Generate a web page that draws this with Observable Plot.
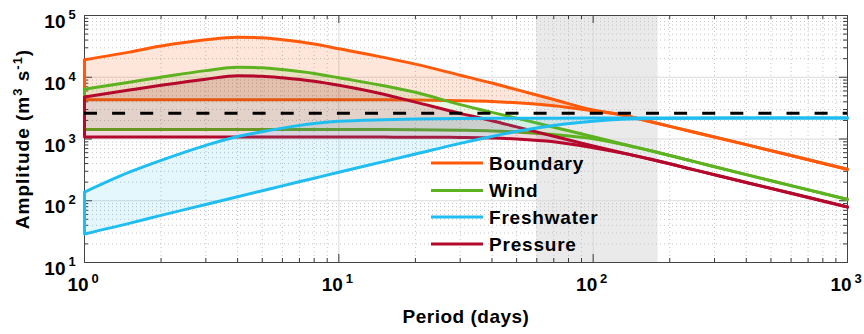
<!DOCTYPE html>
<html><head><meta charset="utf-8">
<script src="https://cdn.jsdelivr.net/npm/d3@7"></script>
<script src="https://cdn.jsdelivr.net/npm/@observablehq/plot@0.6"></script>
<style>
html,body{margin:0;padding:0;background:#fff;}
#chart{width:864px;height:334px;}
</style></head><body><div id="chart"></div>
<script>
// ---- data ----
const periods     = [1, 1.5, 2, 3, 4, 5, 6, 8, 10, 15, 20, 30, 40, 50, 70, 100, 130, 170, 250, 400, 600, 1000];
const boundaryHi  = [19200, 25500, 32000, 40500, 44500, 43500, 40400, 34500, 29000, 21000, 16300, 10800, 8050, 6300, 4350, 2950, 2450, 1880, 1290, 810, 540, 322];
const boundaryLo  = [4330, 4330, 4330, 4330, 4330, 4330, 4330, 4330, 4330, 4320, 4280, 4180, 4050, 3850, 3450, 2850, 2450, 1880, 1290, 810, 540, 322];
const windHi      = [6400, 8300, 10000, 12800, 14500, 14200, 13300, 11500, 9800, 7300, 5700, 3600, 2700, 2180, 1550, 1090, 830, 640, 430, 265, 176, 105];
const windLo      = [1430, 1430, 1430, 1430, 1430, 1430, 1430, 1430, 1430, 1425, 1415, 1385, 1350, 1300, 1180, 1010, 825, 640, 430, 265, 176, 105];
const freshHi     = [138, 290, 451, 790, 1100, 1310, 1500, 1780, 1930, 2050, 2100, 2140, 2160, 2170, 2175, 2180, 2180, 2180, 2180, 2180, 2180, 2180];
const freshLo     = [29, 43, 58, 87, 116, 145, 174, 232, 290, 430, 570, 850, 1100, 1320, 1650, 1930, 2080, 2150, 2175, 2180, 2180, 2180];
const pressureHi  = [4800, 6200, 7400, 9300, 10600, 10400, 9800, 8600, 7400, 5300, 3950, 2600, 1980, 1570, 1110, 770, 600, 465, 316, 198, 132, 79];
const pressureLo  = [1075, 1075, 1075, 1075, 1075, 1075, 1075, 1075, 1075, 1073, 1070, 1060, 1040, 1000, 900, 720, 590, 465, 316, 198, 132, 79];
const seriesNames  = ["Boundary", "Wind", "Freshwater", "Pressure"];
const seriesColors = ["#ff5a0a", "#5cb31f", "#20bef0", "#b4082c"];
const dashedLevel  = [2620];
const bandPeriods  = [60, 180];
const xTickValues  = [1, 10, 100, 1000];
const yTickValues  = [10, 100, 1000, 10000, 100000];
const xAxisLabel   = "Period (days)";

// ---- layout ----
const W = 864, H = 334, mL = 84, mR = 17, mT = 15, mB = 72;
const fw = W - mL - mR, fh = H - mT - mB;
const font = "'Liberation Sans', Arial, Helvetica, sans-serif";
const mult = [2,3,4,5,6,7,8,9];
const minorX = xTickValues.slice(0,-1).flatMap(d => mult.map(k => d*k));
const minorY = yTickValues.slice(0,-1).flatMap(d => mult.map(k => d*k));

const rows = (hi, lo) => periods.map((p, i) => ({p, hi: hi[i], lo: lo[i]}));
const seriesData = {
  Boundary: rows(boundaryHi, boundaryLo),
  Wind: rows(windHi, windLo),
  Freshwater: rows(freshHi, freshLo),
  Pressure: rows(pressureHi, pressureLo)
};
const fillOp = {Boundary: 0.15, Wind: 0.12, Freshwater: 0.12, Pressure: 0.15};
const drawOrder = ["Boundary", "Wind", "Pressure", "Freshwater"];

const seriesMarks = drawOrder.flatMap(name => {
  const c = seriesColors[seriesNames.indexOf(name)];
  const d = seriesData[name];
  return [
    Plot.areaY(d, {x: "p", y1: "lo", y2: "hi", fill: c, fillOpacity: fillOp[name], curve: "monotone-x"}),
    Plot.line(d, {x: "p", y: "hi", stroke: c, strokeWidth: 3, curve: "monotone-x"}),
    Plot.line(d, {x: "p", y: "lo", stroke: c, strokeWidth: 3, curve: "monotone-x"}),
    Plot.ruleX(d.slice(0, 1), {x: "p", y1: "lo", y2: "hi", stroke: c, strokeWidth: 3})
  ];
});

const tickColor = "#3a3a3a";
const chart = Plot.plot({
  width: W, height: H,
  marginLeft: mL, marginRight: mR, marginTop: mT, marginBottom: mB,
  style: {fontFamily: font, background: "white", overflow: "visible"},
  x: {type: "log", domain: [1, 1000], axis: null},
  y: {type: "log", domain: [10, 100000], axis: null},
  marks: [
    Plot.rect([{x1: bandPeriods[0], x2: bandPeriods[1]}], {x1: "x1", x2: "x2", fill: "#d6d6d6", fillOpacity: 0.5}),
    Plot.ruleX(minorX, {stroke: "#c4c4c4", strokeDasharray: "1,3"}),
    Plot.ruleY(minorY, {stroke: "#c4c4c4", strokeDasharray: "1,3"}),
    Plot.ruleX(xTickValues.slice(1, -1), {stroke: "#dadada"}),
    Plot.ruleY(yTickValues.slice(1, -1), {stroke: "#dadada"}),
    // inward ticks on all four sides
    Plot.ruleX(minorX, {insetTop: fh - 4, stroke: tickColor}),
    Plot.ruleX(minorX, {insetBottom: fh - 4, stroke: tickColor}),
    Plot.ruleX(xTickValues, {insetTop: fh - 8, stroke: tickColor}),
    Plot.ruleX(xTickValues, {insetBottom: fh - 8, stroke: tickColor}),
    Plot.ruleY(minorY, {insetRight: fw - 4, stroke: tickColor}),
    Plot.ruleY(minorY, {insetLeft: fw - 4, stroke: tickColor}),
    Plot.ruleY(yTickValues, {insetRight: fw - 8, stroke: tickColor}),
    Plot.ruleY(yTickValues, {insetLeft: fw - 8, stroke: tickColor}),
    Plot.frame({stroke: "#444"}),
    ...seriesMarks,
    Plot.ruleY(dashedLevel, {stroke: "black", strokeWidth: 3, strokeDasharray: "13,15.1"}),
    // tick labels
    Plot.text(xTickValues, {x: d => d, frameAnchor: "bottom", text: () => "10", dx: -6.5, dy: 28, fontSize: 19, fontWeight: "bold", fill: "black"}),
    Plot.text(xTickValues, {x: d => d, frameAnchor: "bottom", text: d => String(Math.round(Math.log10(d))), dx: 10.5, dy: 20, fontSize: 13, fontWeight: "bold", fill: "black"}),
    Plot.text(yTickValues, {y: d => d, frameAnchor: "left", text: () => "10", textAnchor: "end", dx: -19, dy: 6.5, fontSize: 19, fontWeight: "bold", fill: "black"}),
    Plot.text(yTickValues, {y: d => d, frameAnchor: "left", text: d => String(Math.round(Math.log10(d))), textAnchor: "start", dx: -16, dy: -0.5, fontSize: 13, fontWeight: "bold", fill: "black"}),
    Plot.text([xAxisLabel], {frameAnchor: "bottom", text: d => d, dy: 60, fontSize: 19, fontWeight: "bold", fill: "black", style: "letter-spacing:0.5px"})
  ]
});
document.getElementById("chart").appendChild(chart);

const svg = d3.select(chart);
svg.selectAll("text").filter(function() { return this.textContent === xAxisLabel; }).style("letter-spacing", "0.5px");

// y-axis label with superscripts
const yl = svg.append("text")
  .attr("transform", "translate(29,139) rotate(-90)")
  .attr("text-anchor", "middle")
  .style("letter-spacing", "1px")
  .attr("font-family", font).attr("font-weight", "bold").attr("font-size", 19).attr("fill", "black");
yl.append("tspan").text("Amplitude (m");
yl.append("tspan").attr("dy", -7).attr("font-size", 13).text("3");
yl.append("tspan").attr("dy", 7).text(" s");
yl.append("tspan").attr("dy", -7).attr("font-size", 13).text("-1");
yl.append("tspan").attr("dy", 7).text(")");

// legend
const lg = svg.append("g").attr("font-family", font).attr("font-weight", "bold").attr("font-size", 19)
  .attr("text-anchor", "start");
const legendY = [163, 190.5, 217, 244];
seriesNames.forEach((name, i) => {
  lg.append("line").attr("x1", 431).attr("x2", 483).attr("y1", legendY[i]).attr("y2", legendY[i])
    .attr("stroke", seriesColors[i]).attr("stroke-width", 3);
  lg.append("text").attr("x", 489).attr("y", legendY[i]).attr("dy", "0.35em")
    .attr("text-anchor", "start").style("letter-spacing", "0.8px").attr("fill", "black").text(name);
});
</script></body></html>
